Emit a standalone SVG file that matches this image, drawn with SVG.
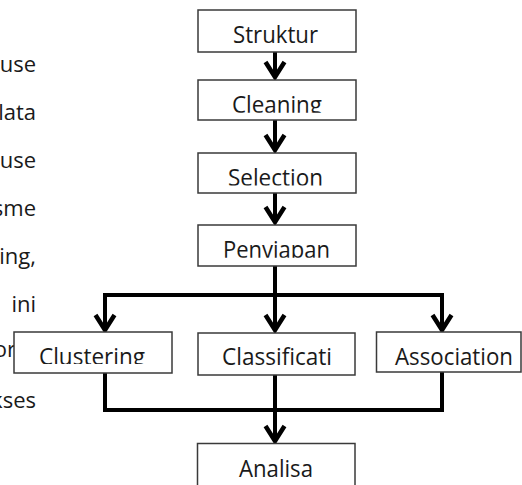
<svg xmlns="http://www.w3.org/2000/svg" width="522" height="485" viewBox="0 0 522 485">
<style>
.bg{fill:#ffffff}
.box{fill:#ffffff;stroke:#3a3a3a;stroke-width:1.5}
.lbl{font-family:"Open Sans","Noto Sans","Liberation Sans",sans-serif;font-size:23px;fill:#1a1a1a;text-anchor:middle}
.side{font-family:"Open Sans","Noto Sans","Liberation Sans",sans-serif;font-size:22px;fill:#1a1a1a;text-anchor:end}
.wire{fill:none;stroke:#000000;stroke-width:4;stroke-linejoin:miter}
.head{fill:none;stroke:#000000;stroke-width:4.5;stroke-linejoin:miter;stroke-linecap:butt}
</style>
<defs>
<clipPath id="cClean"><rect x="198" y="80" width="158" height="32.8"/></clipPath>
<clipPath id="cSel"><rect x="198" y="153" width="158" height="32.5"/></clipPath>
<clipPath id="cPeny"><rect x="198" y="225" width="158" height="32.8"/></clipPath>
<clipPath id="cClus"><rect x="14" y="332" width="158" height="32"/></clipPath>
</defs>
<rect class="bg" x="0" y="0" width="522" height="485"/>

<g id="side-text">
<text class="side" x="36" y="72">use</text>
<text class="side" x="36" y="120">lata</text>
<text class="side" x="36" y="168">use</text>
<text class="side" x="36" y="216">sme</text>
<text class="side" x="36" y="264">ing,</text>
<text class="side" x="36" y="312">ini</text>
<text class="side" x="16" y="357">or</text>
<text class="side" x="36" y="408">kses</text>
</g>

<g id="connectors">
<path class="wire" d="M275,52 V78"/>
<path class="head" d="M265.5,62 L275,77 L284.5,62"/>
<path class="wire" d="M275,120 V151"/>
<path class="head" d="M265.5,135 L275,150 L284.5,135"/>
<path class="wire" d="M275,193 V223"/>
<path class="head" d="M265.5,207 L275,222 L284.5,207"/>
<path class="wire" d="M275,266 V331"/>
<path class="head" d="M265.5,315 L275,330 L284.5,315"/>
<path class="wire" d="M105,330 V295 H442 V330"/>
<path class="head" d="M95.5,315 L105,330 L114.5,315"/>
<path class="head" d="M432.5,315 L442,330 L451.5,315"/>
<path class="wire" d="M105,373 V410 H442 V372"/>
<path class="wire" d="M275,375 V442"/>
<path class="head" d="M265.5,426 L275,441 L284.5,426"/>
</g>

<g id="node-struktur">
<rect class="box" x="198" y="10" width="158" height="42"/>
<text class="lbl" x="275.5" y="43" textLength="85" lengthAdjust="spacingAndGlyphs">Struktur</text>
</g>
<g id="node-cleaning">
<rect class="box" x="198" y="80" width="158" height="40"/>
<text class="lbl" x="277" y="113" textLength="90" lengthAdjust="spacingAndGlyphs" clip-path="url(#cClean)">Cleaning</text>
</g>
<g id="node-selection">
<rect class="box" x="198" y="153" width="158" height="40"/>
<text class="lbl" x="275.5" y="186" textLength="95" lengthAdjust="spacingAndGlyphs" clip-path="url(#cSel)">Selection</text>
</g>
<g id="node-penyiapan">
<rect class="box" x="198" y="225" width="158" height="41"/>
<text class="lbl" x="276.5" y="258" textLength="107" lengthAdjust="spacingAndGlyphs" clip-path="url(#cPeny)">Penyiapan</text>
</g>
<g id="node-clustering">
<rect class="box" x="14" y="332" width="158" height="41"/>
<text class="lbl" x="92" y="364.5" textLength="106" lengthAdjust="spacingAndGlyphs" clip-path="url(#cClus)">Clustering</text>
</g>
<g id="node-classification">
<rect class="box" x="198" y="333" width="157" height="42"/>
<text class="lbl" x="277" y="365" textLength="110" lengthAdjust="spacingAndGlyphs">Classificati</text>
</g>
<g id="node-association">
<rect class="box" x="376.5" y="332" width="144.5" height="40"/>
<text class="lbl" x="454" y="364.5" textLength="118" lengthAdjust="spacingAndGlyphs">Association</text>
</g>
<g id="node-analisa">
<rect class="box" x="197.5" y="443.5" width="157.5" height="50"/>
<text class="lbl" x="276" y="477" textLength="74" lengthAdjust="spacingAndGlyphs">Analisa</text>
</g>
</svg>
